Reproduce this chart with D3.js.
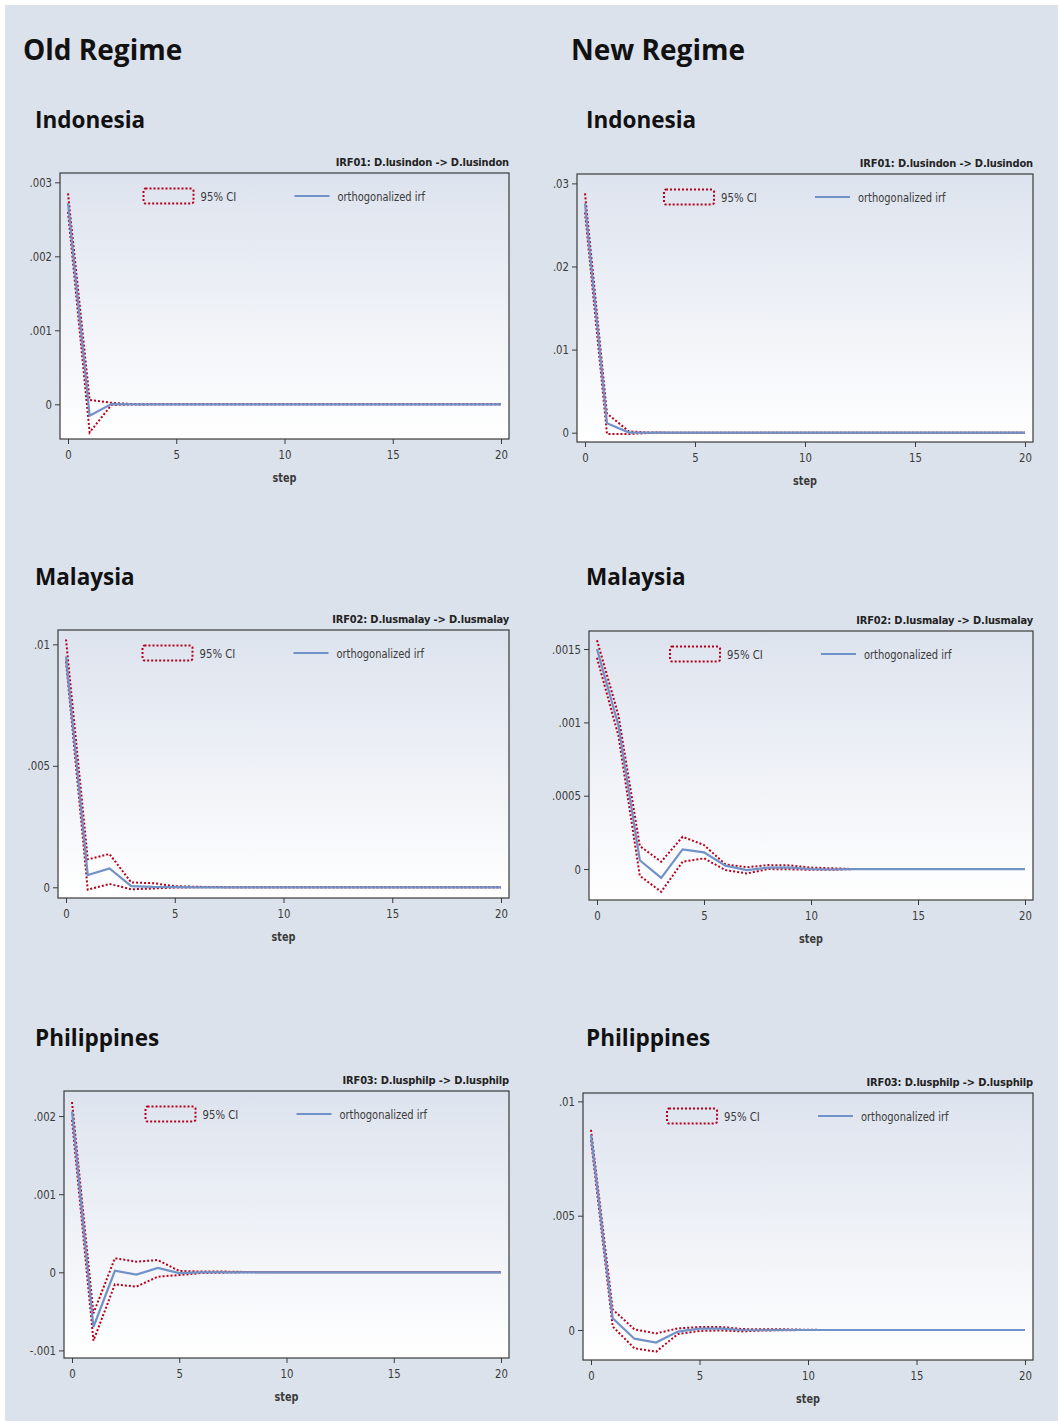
<!DOCTYPE html>
<html>
<head>
<meta charset="utf-8">
<script src="https://cdn.jsdelivr.net/npm/d3@7"></script>
<style>
  html, body { margin: 0; padding: 0; background: #ffffff; }
  svg { display: block; }
  .narrow { font-family: "Liberation Sans Narrow", "Arial Narrow", "DejaVu Sans Condensed", sans-serif; }
  .big { font-family: "Open Sans", "Noto Sans", sans-serif; font-weight: 700; }
</style>
</head>
<body>
<svg id="chart" width="1058" height="1421"></svg>
<script>
// ---------------- DATA ----------------
const steps = [0,1,2,3,4,5,6,7,8,9,10,11,12,13,14,15,16,17,18,19,20];
const xTicks = [0, 5, 10, 15, 20];

const regimeTitles = ["Old Regime", "New Regime"];
const countries = ["Indonesia", "Malaysia", "Philippines"];
const irfTitles = [
  "IRF01: D.lusindon -> D.lusindon",
  "IRF02: D.lusmalay -> D.lusmalay",
  "IRF03: D.lusphilp -> D.lusphilp"
];
const legendLabels = ["95% CI", "orthogonalized irf"];
const xLabel = "step";

// Old regime, Indonesia
const oldIdnIrf   = [0.00272,-0.000155,0.000003,0,0,0,0,0,0,0,0,0,0,0,0,0,0,0,0,0,0];
const oldIdnUpper = [0.00285,0.00006,0.00002,0.000003,0,0,0,0,0,0,0,0,0,0,0,0,0,0,0,0,0];
const oldIdnLower = [0.00260,-0.00038,-0.00001,-0.000003,0,0,0,0,0,0,0,0,0,0,0,0,0,0,0,0,0];
const oldIdnTicks = [0, 0.001, 0.002, 0.003];

// New regime, Indonesia
const newIdnIrf   = [0.0276,0.00113,0.00001,0,0,0,0,0,0,0,0,0,0,0,0,0,0,0,0,0,0];
const newIdnUpper = [0.0288,0.0023,0.00015,0.00002,0,0,0,0,0,0,0,0,0,0,0,0,0,0,0,0,0];
const newIdnLower = [0.0265,-0.00015,-0.00015,-0.00002,0,0,0,0,0,0,0,0,0,0,0,0,0,0,0,0,0];
const newIdnTicks = [0, 0.01, 0.02, 0.03];

// Old regime, Malaysia
const oldMysIrf   = [0.0095,0.0005,0.00078,0.00005,0.00002,0.00001,0,0,0,0,0,0,0,0,0,0,0,0,0,0,0];
const oldMysUpper = [0.0102,0.00115,0.00137,0.0002,0.00017,0.00005,0.00002,0.00001,0,0,0,0,0,0,0,0,0,0,0,0,0];
const oldMysLower = [0.0093,-0.0001,0.00014,-0.00008,-0.00005,-0.00001,0,0,0,0,0,0,0,0,0,0,0,0,0,0,0];
const oldMysTicks = [0, 0.005, 0.01];

// New regime, Malaysia
const newMysIrf   = [0.0015,0.00098,0.00006,-0.00006,0.000134,0.000114,0.000023,-0.000007,0.00001,0.00001,0,-0.000003,0,0,0,0,0,0,0,0,0];
const newMysUpper = [0.00156,0.00105,0.000157,0.00005,0.00022,0.000164,0.000032,0.000012,0.000027,0.000025,0.00001,0.000005,0,0,0,0,0,0,0,0,0];
const newMysLower = [0.00144,0.00091,-0.000046,-0.000155,0.00005,0.000073,-0.000007,-0.00003,0,-0.000002,-0.000005,-0.000005,0,0,0,0,0,0,0,0,0];
const newMysTicks = [0, 0.0005, 0.001, 0.0015];

// Old regime, Philippines
const oldPhlIrf   = [0.00206,-0.0007,0.00002,-0.00003,0.000055,-0.00001,0,0,0,0,0,0,0,0,0,0,0,0,0,0,0];
const oldPhlUpper = [0.00218,-0.000525,0.00018,0.000136,0.000157,0.000017,0.00001,0.00001,0.000005,0,0,0,0,0,0,0,0,0,0,0,0];
const oldPhlLower = [0.00195,-0.000875,-0.000154,-0.000184,-0.000056,-0.000035,-0.00001,-0.000005,0,0,0,0,0,0,0,0,0,0,0,0,0];
const oldPhlTicks = [-0.001, 0, 0.001, 0.002];

// New regime, Philippines
const newPhlIrf   = [0.00853,0.00051,-0.00038,-0.00055,-0.00007,0.00006,0.00006,0,-0.00001,0,0,0,0,0,0,0,0,0,0,0,0];
const newPhlUpper = [0.00875,0.0009,0.00003,-0.00015,0.00007,0.00013,0.00013,0.00004,0.00003,0.00003,0.00001,0,0,0,0,0,0,0,0,0,0];
const newPhlLower = [0.0083,0.00015,-0.0008,-0.00095,-0.00018,-0.00004,-0.00002,-0.00006,-0.00002,-0.00001,0,0,0,0,0,0,0,0,0,0,0];
const newPhlTicks = [0, 0.005, 0.01];

// ---------------- LAYOUT ----------------
const W = 1058, H = 1421;
const colors = {
  page: "#dce2ec",
  gradTop: "#dde3ee",
  gradBottom: "#ffffff",
  frame: "#3a3a3a",
  irf: "#7092c8",
  ci: "#b8001c",
  text: "#3a3a3a",
  title: "#111111"
};

// frame = plot region box in pixels; domain = y extent of that box
const panels = [
  { col: 0, row: 0, title: irfTitles[0], irf: oldIdnIrf, upper: oldIdnUpper, lower: oldIdnLower, ticks: oldIdnTicks,
    frame: {l: 60, t: 173, r: 509, b: 439}, domain: [-0.000469, 0.003126] },
  { col: 1, row: 0, title: irfTitles[0], irf: newIdnIrf, upper: newIdnUpper, lower: newIdnLower, ticks: newIdnTicks,
    frame: {l: 577, t: 174, r: 1033, b: 442}, domain: [-0.00112, 0.03113] },
  { col: 0, row: 1, title: irfTitles[1], irf: oldMysIrf, upper: oldMysUpper, lower: oldMysLower, ticks: oldMysTicks,
    frame: {l: 58, t: 630, r: 509, b: 898}, domain: [-0.00044, 0.01059] },
  { col: 1, row: 1, title: irfTitles[1], irf: newMysIrf, upper: newMysUpper, lower: newMysLower, ticks: newMysTicks,
    frame: {l: 589, t: 631, r: 1033, b: 900}, domain: [-0.000211, 0.001623] },
  { col: 0, row: 2, title: irfTitles[2], irf: oldPhlIrf, upper: oldPhlUpper, lower: oldPhlLower, ticks: oldPhlTicks,
    frame: {l: 64, t: 1091, r: 509, b: 1358}, domain: [-0.001097, 0.002321] },
  { col: 1, row: 2, title: irfTitles[2], irf: newPhlIrf, upper: newPhlUpper, lower: newPhlLower, ticks: newPhlTicks,
    frame: {l: 583, t: 1093, r: 1033, b: 1360}, domain: [-0.001312, 0.010367] }
];

const regimeX = [23, 571];
const countryX = [35, 586];
const countryY = [128, 585, 1046];

const svg = d3.select("#chart");

// horizontally condense a text element (real text kept)
function condense(sel, factor) {
  sel.each(function() {
    const len = this.getComputedTextLength();
    if (len > 0) {
      d3.select(this).attr("textLength", (len * factor).toFixed(2)).attr("lengthAdjust", "spacingAndGlyphs");
    }
  });
}

// page background
svg.append("rect").attr("x", 5).attr("y", 5).attr("width", W - 5).attr("height", H - 5).attr("fill", colors.page);

const defs = svg.append("defs");
const grad = defs.append("linearGradient").attr("id", "plotGrad").attr("x1", 0).attr("y1", 0).attr("x2", 0).attr("y2", 1);
grad.append("stop").attr("offset", "0%").attr("stop-color", colors.gradTop);
grad.append("stop").attr("offset", "100%").attr("stop-color", colors.gradBottom);

// regime titles
regimeTitles.forEach((t, i) => {
  svg.append("text").attr("class", "big").attr("x", regimeX[i]).attr("y", 60)
    .attr("font-size", 28).attr("fill", colors.title).text(t);
});
// country titles
countries.forEach((c, r) => {
  [0, 1].forEach(col => {
    svg.append("text").attr("class", "big").attr("x", countryX[col]).attr("y", countryY[r])
      .attr("font-size", 22.5).attr("fill", colors.title).text(c);
  });
});

const fmt = v => v === 0 ? "0" : String(v).replace("0.", ".");

panels.forEach((p, idx) => {
  const f = p.frame;
  const g = svg.append("g");
  const x = d3.scaleLinear().domain([steps[0], steps[steps.length - 1]]).range([f.l + 8, f.r - 8]);
  const y = d3.scaleLinear().domain(p.domain).range([f.b, f.t]);

  g.append("rect").attr("x", f.l).attr("y", f.t).attr("width", f.r - f.l).attr("height", f.b - f.t)
    .attr("fill", "url(#plotGrad)");

  // y axis
  const ya = g.append("g").attr("transform", `translate(${f.l},0)`)
    .call(d3.axisLeft(y).tickValues(p.ticks).tickSize(5).tickPadding(3).tickFormat(fmt));
  ya.select(".domain").remove();
  ya.selectAll("line").attr("stroke", colors.frame);
  ya.selectAll("text").attr("class", "narrow").attr("font-size", 12.5).attr("fill", colors.text);
  condense(ya.selectAll("text"), 0.9);

  // x axis
  const xa = g.append("g").attr("transform", `translate(0,${f.b})`)
    .call(d3.axisBottom(x).tickValues(xTicks).tickSize(5).tickPadding(6).tickFormat(d3.format("d")));
  xa.select(".domain").remove();
  xa.selectAll("line").attr("stroke", colors.frame);
  xa.selectAll("text").attr("class", "narrow").attr("font-size", 12.5).attr("fill", colors.text);
  condense(xa.selectAll("text"), 0.9);

  // x label
  const xl = g.append("text").attr("class", "narrow").attr("x", (f.l + f.r) / 2).attr("y", f.b + 43)
    .attr("text-anchor", "middle").attr("font-size", 12.5).attr("font-weight", 700)
    .attr("fill", colors.text).text(xLabel);
  condense(xl, 0.86);

  // panel subtitle
  g.append("text").attr("class", "narrow").attr("x", f.r).attr("y", f.t - 7)
    .attr("text-anchor", "end").attr("font-size", 11).attr("font-weight", 700)
    .attr("letter-spacing", "-0.15px")
    .attr("fill", "#222").text(p.title);

  const line = d3.line().x((d, i) => x(steps[i])).y(d => y(d));

  [p.upper, p.lower].forEach(s => {
    g.append("path").datum(s).attr("d", line).attr("fill", "none")
      .attr("stroke", colors.ci).attr("stroke-width", 2).attr("stroke-dasharray", "2,2");
  });
  g.append("path").datum(p.irf).attr("d", line).attr("fill", "none")
    .attr("stroke", colors.irf).attr("stroke-width", 2.2);

  // frame
  g.append("rect").attr("x", f.l).attr("y", f.t).attr("width", f.r - f.l).attr("height", f.b - f.t)
    .attr("fill", "none").attr("stroke", colors.frame).attr("stroke-width", 1.2);

  // legend
  const cx = (f.l + f.r) / 2;
  const lx = cx - 141;
  const ly = f.t + 23;
  const lg = g.append("g");
  lg.append("rect").attr("x", lx).attr("y", ly - 7.5).attr("width", 50).attr("height", 15).attr("rx", 2)
    .attr("fill", "none").attr("stroke", colors.ci).attr("stroke-width", 2).attr("stroke-dasharray", "2,2");
  const t1 = lg.append("text").attr("class", "narrow").attr("x", lx + 57).attr("y", ly + 4.5)
    .attr("font-size", 12.5).attr("fill", colors.text).text(legendLabels[0]);
  condense(t1, 0.9);
  lg.append("line").attr("x1", lx + 151).attr("x2", lx + 186).attr("y1", ly).attr("y2", ly)
    .attr("stroke", colors.irf).attr("stroke-width", 2.2);
  const t2 = lg.append("text").attr("class", "narrow").attr("x", lx + 194).attr("y", ly + 4.5)
    .attr("font-size", 12.5).attr("fill", colors.text).text(legendLabels[1]);
  condense(t2, 0.88);
});
</script>
</body>
</html>
